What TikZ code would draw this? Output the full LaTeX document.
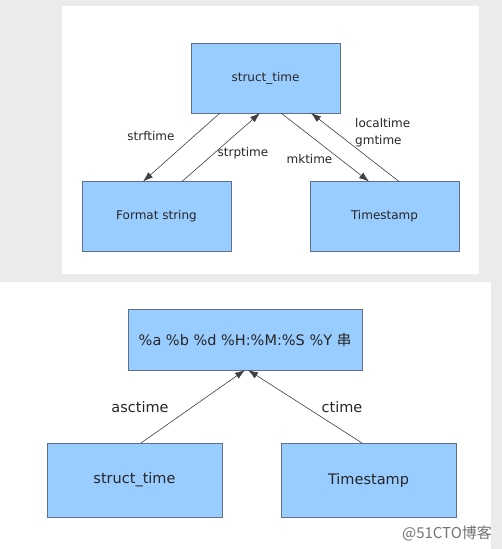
\documentclass[tikz,border=0pt]{standalone}
\usepackage{fontspec}
\setmainfont{DejaVu Sans}
\newfontfamily\cjk{Noto Sans CJK SC}
\usepackage{tikz}
\usetikzlibrary{arrows.meta}
\definecolor{boxblue}{HTML}{99CCFF}
\definecolor{boxline}{HTML}{5F7089}
\definecolor{pagegray}{HTML}{EBEBEB}

\begin{document}
\begin{tikzpicture}[x=1pt,y=-1pt]
\useasboundingbox (0,0) rectangle (502,549);
\fill[pagegray] (0,0) rectangle (502,549);
\fill[white] (62,6) rectangle (479,274);
\fill[white] (0,282) rectangle (491,549);
\tikzset{vertex/.style = {shape=rectangle,draw=boxline,fill=boxblue,outer sep=0pt,
  minimum width=149pt,minimum height=70pt,font=\fontsize{12}{14}\selectfont,text=black!85}}
\tikzset{label/.style = {font=\fontsize{12}{17}\selectfont,text=black!85,inner sep=0pt}}
\tikzset{edge/.style = {-{Latex[length=10pt,width=7pt]},draw=black!75,line width=0.6pt}}
% vertices
\node[vertex] (st) at (265.5,78) {struct\_time};
\node[vertex] (fmt) at (156.5,216.5) {Format string};
\node[vertex] (ts) at (384.5,216.5) {Timestamp};
% labels
\node[label] (sf) at (151,136) {strftime};
\node[label] (sp) at (243,153) {strptime};
\node[label] (mk) at (309.5,159) {mktime};
\node[label,align=left,anchor=west] (lt) at (355,132.5) {localtime\\gmtime};
%edges
\draw[edge] ([xshift=-45.5pt]st.south) to ([xshift=-13.5pt]fmt.north);
\draw[edge] ([xshift=25.5pt]fmt.north) to ([xshift=-5.5pt]st.south);
\draw[edge] ([xshift=15.5pt]st.south) to ([xshift=-15.5pt]ts.north);
\draw[edge] ([xshift=14.5pt]ts.north) to ([xshift=45.5pt]st.south);

\tikzset{vertex/.style = {shape=rectangle,draw=boxline,fill=boxblue,outer sep=0pt,
  minimum width=175pt,minimum height=74pt,font=\fontsize{14.5}{17}\selectfont,text=black!85}}
\tikzset{label/.style = {font=\fontsize{14.5}{17}\selectfont,text=black!85,inner sep=0pt}}
% vertices
\node[vertex,minimum width=234pt,minimum height=61pt] (fs) at (245,339.5) {\%a \%b \%d \%H:\%M:\%S \%Y {\cjk 串}};
\node[vertex] (st2) at (134.5,480) {struct\_time};
\node[vertex] (ts2) at (368.5,480) {Timestamp};
% labels
\node[label] (as) at (140,407) {asctime};
\node[label] (ct) at (342,407) {ctime};
%edges
\draw[edge] ([xshift=6.5pt]st2.north) to (fs.south);
\draw[edge] ([xshift=-6.5pt]ts2.north) to ([xshift=3pt]fs.south);

\node[font=\cjk\fontsize{15}{17}\selectfont,text=black!55,inner sep=0pt] (wm) at (447,533) {@51CTO博客};
\end{tikzpicture}
\end{document}
